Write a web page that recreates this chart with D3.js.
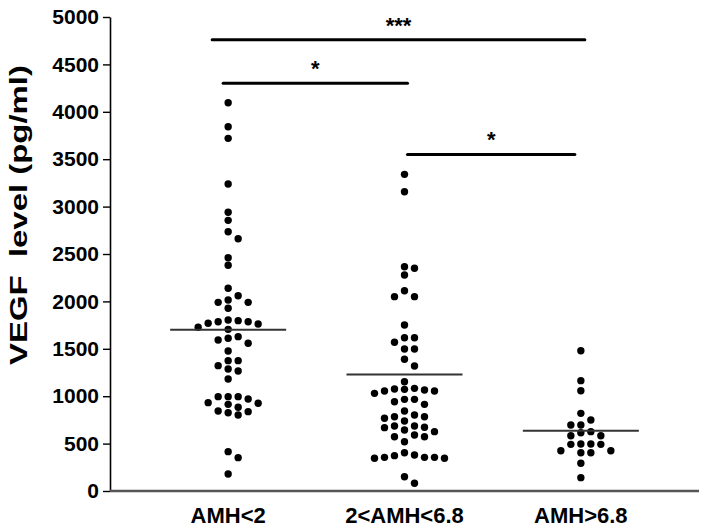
<!DOCTYPE html>
<html>
<head>
<meta charset="utf-8">
<script src="https://cdn.jsdelivr.net/npm/d3@7"></script>
<style>
body { margin: 0; background: #fff; }
text { font-family: "Liberation Sans", Arial, sans-serif; font-weight: bold; fill: #000; }
</style>
</head>
<body>
<div id="chart"></div>
<script>
// groups and values (pg/ml)
var groups = ["AMH<2", "2<AMH<6.8", "AMH>6.8"];

var amhLow = [4096, 3843, 3720, 3238, 2940, 2855, 2735, 2661, 2461, 2381,
	2138, 2060, 2015, 1990, 1990, 1927, 1804, 1797, 1786, 1786, 1769, 1762, 1727, 1705,
	1628, 1611, 1593, 1558, 1477, 1375, 1375, 1322, 1287, 1266, 1181,
	995, 995, 995, 970, 932, 925, 914, 883, 844, 837, 826, 802, 415, 352, 179];

var amhMid = [3340, 3157, 2366, 2349, 2278, 2113, 2050, 2050,
	1751, 1617, 1617, 1569, 1498, 1498, 1389, 1319, 1153,
	1083, 1076, 1072, 1065, 1055, 1055, 1030, 967, 967, 942, 914, 844,
	802, 784, 784, 767, 738, 686, 686, 672, 668, 643, 626, 591, 573, 573, 520,
	404, 380, 373, 355, 355, 355, 345, 345, 151, 81];

var amhHigh = [1480, 1164, 1058, 819, 749, 696, 696, 626, 615, 583, 583,
	496, 496, 492, 492, 425, 425, 404, 404, 292, 141];

var groupMeans = [1700, 1230, 636];

var yTicks = [0, 500, 1000, 1500, 2000, 2500, 3000, 3500, 4000, 4500, 5000];

// significance brackets: group indices, height (pg/ml), label
var comparisons = [
	{ from: 0, to: 2, level: 4760, label: "***" },
	{ from: 0, to: 1, level: 4300, label: "*" },
	{ from: 1, to: 2, level: 3550, label: "*" }
];

var opts = {
	width: 706,
	height: 532,
	axisLeft: 110,
	axisRight: 699,
	axisTop: 17,
	axisBottom: 491,
	dotRadius: 3.7,
	dotStep: 10,
	minDy: 7.5,
	meanHalf: 58
};

var svg = d3.select("#chart")
	.append("svg")
	.attr("width", opts.width)
	.attr("height", opts.height);

var y = d3.scaleLinear()
	.domain([0, 5000])
	.range([opts.axisBottom, opts.axisTop]);

var x = d3.scalePoint()
	.domain(groups)
	.range([opts.axisLeft, opts.axisRight])
	.padding(0.67);

// y axis
var yAxis = svg.append("g")
	.attr("transform", "translate(" + opts.axisLeft + ",0)")
	.call(d3.axisLeft(y).tickValues(yTicks).tickFormat(d3.format("d"))
		.tickSize(7).tickSizeOuter(0).tickPadding(4));
yAxis.select(".domain").attr("stroke", "#000").attr("stroke-width", 1.6);
yAxis.selectAll(".tick line").attr("stroke", "#000").attr("stroke-width", 1.4);
yAxis.selectAll(".tick text")
	.attr("font-size", 21)
	.attr("font-family", "Liberation Sans, Arial, sans-serif")
	.attr("font-weight", "bold")
	.attr("fill", "#000");

// x axis line
svg.append("line")
	.attr("x1", opts.axisLeft)
	.attr("x2", opts.axisRight)
	.attr("y1", opts.axisBottom)
	.attr("y2", opts.axisBottom)
	.attr("stroke", "#555")
	.attr("stroke-width", 2.5);

svg.selectAll("text.xlabel")
	.data(groups)
	.enter()
	.append("text")
	.attr("class", "xlabel")
	.attr("x", function(d) { return x(d); })
	.attr("y", 523)
	.attr("text-anchor", "middle")
	.attr("font-size", 22)
	.text(function(d) { return d; });

// y title
svg.append("text")
	.attr("transform", "translate(27,215) rotate(-90)")
	.attr("text-anchor", "middle")
	.attr("font-size", 23)
	.attr("textLength", 300)
	.attr("lengthAdjust", "spacingAndGlyphs")
	.attr("xml:space", "preserve")
	.text("VEGF  level (pg/ml)");

// simple column swarm: each dot goes to the nearest free column
function swarm(values, cx) {
	var placed = [];
	values.slice().sort(d3.descending).forEach(function(v) {
		var py = y(v);
		for (var i = 0; ; i++) {
			var k = i === 0 ? 0 : (i % 2 ? (i + 1) / 2 : -i / 2);
			var hit = placed.some(function(p) { return p.k === k && Math.abs(p.py - py) < opts.minDy; });
			if (!hit) { placed.push({ k: k, py: py }); break; }
		}
	});
	return placed.map(function(p) { return { x: cx + p.k * opts.dotStep, y: p.py }; });
}

var series = [amhLow, amhMid, amhHigh];

series.forEach(function(vals, gi) {
	var pts = swarm(vals, x(groups[gi]));
	svg.append("g")
		.selectAll("circle")
		.data(pts)
		.enter()
		.append("circle")
		.attr("cx", function(d) { return d.x; })
		.attr("cy", function(d) { return d.y; })
		.attr("r", opts.dotRadius)
		.attr("fill", "#000");
});

// mean lines
svg.selectAll("line.mean")
	.data(groupMeans)
	.enter()
	.append("line")
	.attr("class", "mean")
	.attr("x1", function(d, i) { return x(groups[i]) - opts.meanHalf; })
	.attr("x2", function(d, i) { return x(groups[i]) + opts.meanHalf; })
	.attr("y1", function(d) { return y(d); })
	.attr("y2", function(d) { return y(d); })
	.attr("stroke", "#333")
	.attr("stroke-width", 2);

// brackets - ends trimmed a little like the original
var barTrim = [[-16, 4], [-5, 3], [3, -6]];
comparisons.forEach(function(c, i) {
	var x1 = x(groups[c.from]) + barTrim[i][0];
	var x2 = x(groups[c.to]) + barTrim[i][1];
	var yy = y(c.level);
	svg.append("line")
		.attr("x1", x1).attr("x2", x2)
		.attr("y1", yy).attr("y2", yy)
		.attr("stroke", "#000")
		.attr("stroke-width", 3)
		.attr("stroke-linecap", "round");
	svg.append("text")
		.attr("x", (x1 + x2) / 2)
		.attr("y", yy - 7)
		.attr("text-anchor", "middle")
		.attr("font-size", 22)
		.text(c.label);
});
</script>
</body>
</html>
